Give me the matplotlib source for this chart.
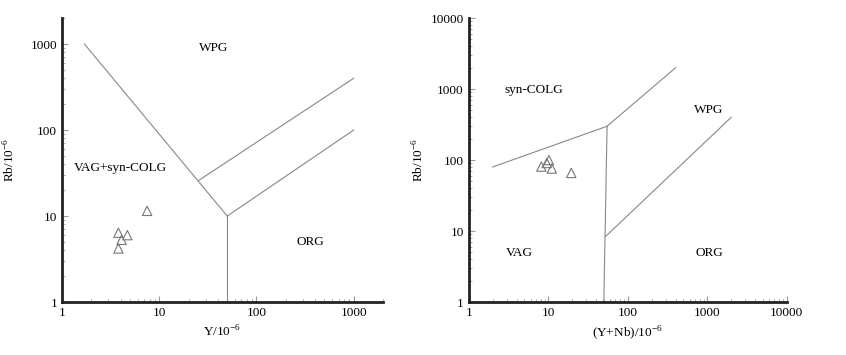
import numpy as np
from matplotlib import pyplot as plt

plt.rcParams['font.family'] = ['Liberation Serif', 'DejaVu Serif']
plt.rcParams['mathtext.fontset'] = 'custom'
plt.rcParams['mathtext.rm'] = 'Liberation Serif'

# samples
y_ppm = [7.5, 3.8, 4.7, 4.1, 3.8]
rb_left = [11.5, 6.4, 6.0, 5.3, 4.2]
ynb_ppm = [8.2, 10.2, 9.6, 11.1, 19.5]
rb_right = [81, 100, 91, 76, 66]

# Rb-Y boundaries
left_lines = [
    ([1.7, 50], [1000, 10]),
    ([25.5, 1000], [26, 400]),
    ([50, 1000], [10, 100]),
    ([50, 50], [10, 1]),
]
left_labels = [("WPG", 36, 900), ("VAG+syn-COLG", 4.0, 36), ("ORG", 355, 5.0)]

# Rb-(Y+Nb) boundaries
right_lines = [
    ([2, 55], [80, 300]),
    ([55, 400], [300, 2000]),
    ([55, 50], [300, 1]),
    ([52, 2000], [8.3, 400]),
]
right_labels = [("syn-COLG", 6.6, 970), ("WPG", 1050, 500), ("VAG", 4.3, 4.85), ("ORG", 1050, 4.85)]

fig = plt.figure(figsize=(8.46, 3.55), dpi=100)
ax1 = fig.add_axes([0.0733, 0.149, 0.3794, 0.80])
ax2 = fig.add_axes([0.554, 0.149, 0.376, 0.80])


def setup(ax, xlim, ylim, xlabel, ypad):
    ax.set_xscale('log')
    ax.set_yscale('log')
    ax.set_xlim(*xlim)
    ax.set_ylim(*ylim)
    for s in ['top', 'right']:
        ax.spines[s].set_visible(False)
    for s in ['left', 'bottom']:
        ax.spines[s].set_linewidth(2)
        ax.spines[s].set_color('#222222')
    ax.tick_params(which='both', direction='in', colors='#999999', labelcolor='black', labelsize=9.5)
    ax.tick_params(which='major', length=4, width=0.8)
    ax.tick_params(which='minor', length=2.5, width=0.6)
    ax.xaxis.set_major_formatter(plt.FuncFormatter(lambda v, p: f"{v:g}"))
    ax.yaxis.set_major_formatter(plt.FuncFormatter(lambda v, p: f"{v:g}"))
    ax.set_xlabel(xlabel, fontsize=9.5, labelpad=4)
    ax.set_ylabel(r'Rb/10$^{-6}$', fontsize=9.5, labelpad=ypad)


setup(ax1, (1, 2000), (1, 2000), r'Y/10$^{-6}$', 9)
setup(ax2, (1, 10000), (1, 10000), r'(Y+Nb)/10$^{-6}$', 3)

for xs, ys in left_lines:
    ax1.plot(xs, ys, color='#888888', lw=0.8)
for t, x, y in left_labels:
    ax1.text(x, y, t, ha='center', va='center', fontsize=9.5)
ax1.scatter(y_ppm, rb_left, marker='^', s=45, facecolors='none', edgecolors='#777777', linewidths=0.8, zorder=3)

for xs, ys in right_lines:
    ax2.plot(xs, ys, color='#888888', lw=0.8)
for t, x, y in right_labels:
    ax2.text(x, y, t, ha='center', va='center', fontsize=9.5)
ax2.scatter(ynb_ppm, rb_right, marker='^', s=45, facecolors='none', edgecolors='#777777', linewidths=0.8, zorder=3)

fig.savefig("out.png", dpi=100)
